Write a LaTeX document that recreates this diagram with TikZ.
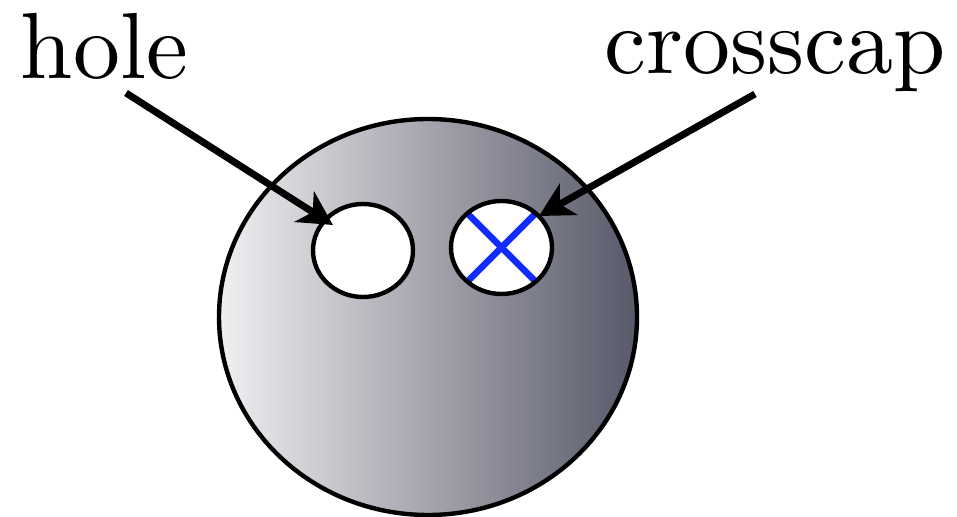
\documentclass[tikz,border=0pt]{standalone}
\usetikzlibrary{arrows.meta}
\definecolor{shadeL}{RGB}{240,240,242}
\definecolor{shadeR}{RGB}{88,89,105}
\definecolor{xblue}{RGB}{18,44,255}
\begin{document}
\begin{tikzpicture}[x=0.5pt,y=-0.5pt,
  outline/.style={line width=2.2pt,draw=black},
  pointer/.style={line width=3.5pt,-{Stealth[length=17pt,width=18pt,inset=5pt]}},
  label/.style={scale=4.7,inner sep=0pt,anchor=base west},
  cross/.style={line width=3.3pt,draw=xblue}]
\useasboundingbox (0,0) rectangle (957,517);
% disc
\path[outline,left color=shadeL,right color=shadeR] (428,317) ellipse [x radius=104.5pt,y radius=99pt];
% hole
\coordinate (holec) at (363,250.5);
\path[outline,fill=white] (holec) ellipse [x radius=25pt,y radius=23.25pt];
% crosscap
\coordinate (capc) at (501.5,247.5);
\fill[white] (capc) ellipse [x radius=25.25pt,y radius=23.25pt];
\begin{scope}
\clip (capc) ellipse [x radius=25.25pt,y radius=23.25pt];
\draw[cross] (467,213) -- (536,282);
\draw[cross] (536,213) -- (467,282);
\end{scope}
\draw[outline] (capc) ellipse [x radius=25.25pt,y radius=23.25pt];
% labels
\node[label] (holelabel) at (19,79) {hole};
\node[label] (caplabel) at (603,74) {crosscap};
\coordinate (holefrom) at (126,93);
\coordinate (holetip) at (333,225);
\coordinate (capfrom) at (755,94);
\coordinate (captip) at (539,216);
\draw[pointer] (holefrom) -- (holetip);
\draw[pointer] (capfrom) -- (captip);
\end{tikzpicture}
\end{document}
